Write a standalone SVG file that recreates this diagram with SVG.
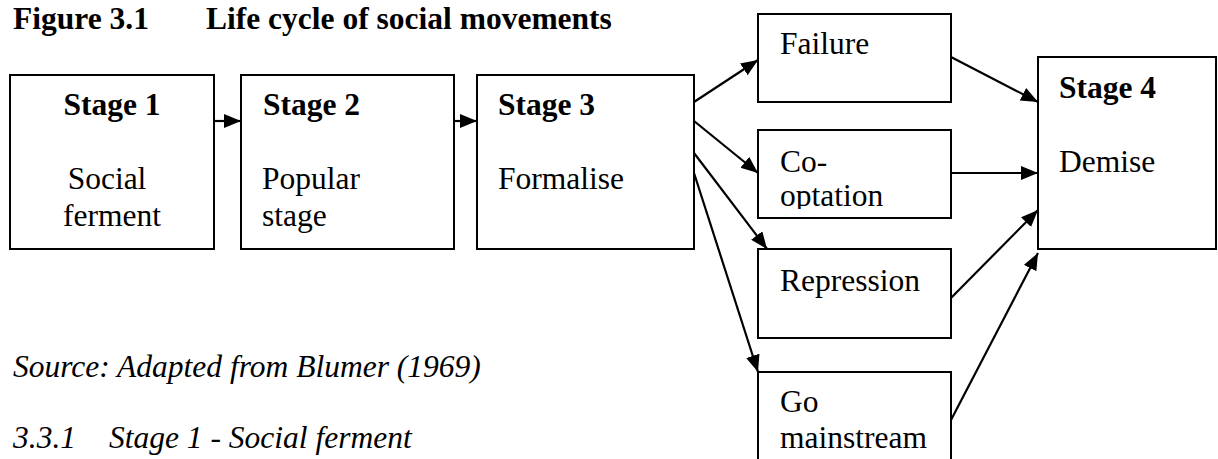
<svg xmlns="http://www.w3.org/2000/svg" width="1218" height="459" viewBox="0 0 1218 459">
<style>
text{font-family:"Liberation Serif","Tinos","Times New Roman","DejaVu Serif",serif;font-size:31.5px;fill:#000}
.b{font-weight:bold}
.i{font-style:italic}
.box{fill:#fff;stroke:#000;stroke-width:2}
.con line{stroke:#000;stroke-width:2.2}
</style>
<defs>
<marker id="ah" markerUnits="userSpaceOnUse" markerWidth="19" markerHeight="16" refX="17" refY="7" orient="auto">
<path d="M0,0 L17,7 L0,14 z" fill="#000"/>
</marker>
<clipPath id="clipCo"><rect x="759" y="131" width="191" height="78"/></clipPath>
</defs>
<rect width="1218" height="459" fill="#fff"/>
<g id="title">
<text class="b" x="13" y="29">Figure 3.1</text>
<text class="b" x="206" y="29">Life cycle of social movements</text>
</g>
<g id="stage1">
<rect class="box" x="10" y="75" width="204" height="174"/>
<text class="b" x="112" y="115" text-anchor="middle">Stage 1</text>
<text x="107" y="189" text-anchor="middle">Social</text>
<text x="112" y="226" text-anchor="middle">ferment</text>
</g>
<g id="stage2">
<rect class="box" x="241" y="75" width="213" height="174"/>
<text class="b" x="263" y="115">Stage 2</text>
<text x="262" y="189">Popular</text>
<text x="262" y="226">stage</text>
</g>
<g id="stage3">
<rect class="box" x="477" y="75" width="217" height="174"/>
<text class="b" x="498" y="115">Stage 3</text>
<text x="498" y="189">Formalise</text>
</g>
<g id="failure">
<rect class="box" x="758" y="14" width="193" height="88"/>
<text x="780" y="54">Failure</text>
</g>
<g id="cooptation">
<rect class="box" x="758" y="130" width="193" height="88"/>
<g clip-path="url(#clipCo)">
<text x="780" y="172">Co-</text>
<text x="780" y="206">optation</text>
</g>
</g>
<g id="repression">
<rect class="box" x="758" y="249" width="193" height="89"/>
<text x="780" y="291">Repression</text>
</g>
<g id="mainstream">
<rect class="box" x="758" y="372" width="193" height="100"/>
<text x="780" y="412">Go</text>
<text x="780" y="448">mainstream</text>
</g>
<g id="stage4">
<rect class="box" x="1038" y="57" width="178" height="192"/>
<text class="b" x="1059" y="98">Stage 4</text>
<text x="1059" y="172">Demise</text>
</g>
<g id="source">
<text class="i" x="13" y="377">Source: Adapted from Blumer (1969)</text>
<text class="i" x="13" y="448">3.3.1</text>
<text class="i" x="109" y="448">Stage 1 - Social ferment</text>
</g>
<g id="connectors" class="con">
<line x1="214" y1="121" x2="241" y2="121" marker-end="url(#ah)"/>
<line x1="454" y1="121" x2="477" y2="121" marker-end="url(#ah)"/>
<line x1="694" y1="102" x2="758" y2="60" marker-end="url(#ah)"/>
<line x1="694" y1="121" x2="758" y2="173" marker-end="url(#ah)"/>
<line x1="694" y1="153" x2="767" y2="249" marker-end="url(#ah)"/>
<line x1="694" y1="173" x2="758" y2="372" marker-end="url(#ah)"/>
<line x1="951" y1="57" x2="1038" y2="102" marker-end="url(#ah)"/>
<line x1="951" y1="173" x2="1038" y2="173" marker-end="url(#ah)"/>
<line x1="951" y1="298" x2="1038" y2="210" marker-end="url(#ah)"/>
<line x1="951" y1="420" x2="1038" y2="253" marker-end="url(#ah)"/>
</g>
</svg>
